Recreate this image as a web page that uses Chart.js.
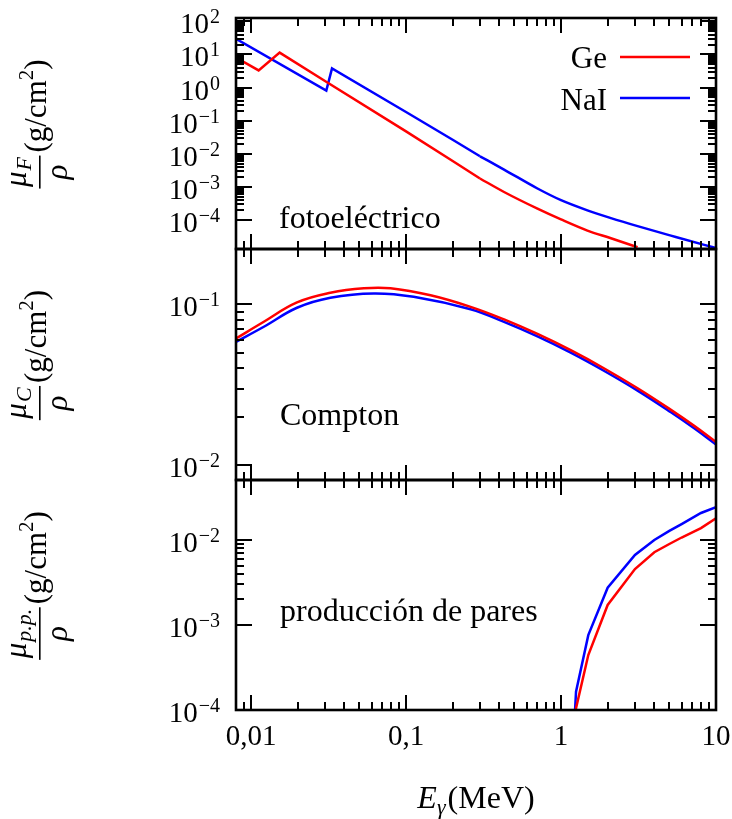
<!DOCTYPE html>
<html><head><meta charset="utf-8">
<script src="https://cdn.jsdelivr.net/npm/chart.js@4/dist/chart.umd.min.js"></script>
<style>
html,body{margin:0;padding:0;background:#fff;}
#wrap{position:relative;width:732px;height:819px;overflow:hidden;background:#fff;}
canvas{position:absolute;left:0;}
</style></head><body>
<div id="wrap">
<canvas id="c1" width="732" height="260" style="top:0px"></canvas>
<canvas id="c2" width="732" height="250" style="top:240px"></canvas>
<canvas id="c3" width="732" height="349" style="top:470px"></canvas>
</div>
<script>
// ---------- data ----------
const seriesNames = ['Ge', 'NaI'];
const seriesColors = ['#ff0000', '#0000ff'];

// photoelectric: straight low-energy part (with absorption edges) and curved high-energy part
const photoE_Ge_low   = [0.008, 0.0112, 0.0153, 0.03, 0.1, 0.2, 0.3];
const photoMu_Ge_low  = [8.0, 3.3, 11.4, 1.58, 0.047, 5.97e-3, 1.77e-3];
const photoE_Ge_high  = [0.3, 0.429, 0.705, 1.0, 1.48, 2.1, 3.12];
const photoMu_Ge_high = [1.77e-3, 6.9e-4, 2.16e-4, 1.02e-4, 4.7e-5, 2.75e-5, 1.47e-5];
const photoE_NaI_low   = [0.008, 0.0306, 0.0333, 0.1, 0.2, 0.3];
const photoMu_NaI_low  = [30, 0.81, 3.8, 0.182, 0.0262, 8.3e-3];
const photoE_NaI_high  = [0.3, 0.429, 0.705, 1.0, 1.48, 2.1, 3.12, 5.12, 8.4, 10];
const photoMu_NaI_high = [8.3e-3, 3.3e-3, 8.8e-4, 3.9e-4, 1.92e-4, 1.12e-4, 6.4e-5, 3.3e-5, 1.73e-5, 1.4e-5];

const comptonE_Ge  = [0.008, 0.0121, 0.0198, 0.0325, 0.0534, 0.0794, 0.144, 0.261, 0.429, 0.705, 1.155, 1.89, 3.12, 5.12, 7.23, 10];
const comptonMu_Ge = [0.0614, 0.078, 0.1028, 0.118, 0.126, 0.126, 0.114, 0.0966, 0.0807, 0.0655, 0.0519, 0.0401, 0.0301, 0.0221, 0.01758, 0.01396];
const comptonE_NaI  = [0.008, 0.0121, 0.0198, 0.0325, 0.062, 0.112, 0.261, 0.429, 0.705, 1.155, 1.89, 3.12, 5.12, 7.23, 10];
const comptonMu_NaI = [0.0585, 0.0726, 0.0953, 0.110, 0.117, 0.1115, 0.0932, 0.0778, 0.0632, 0.0501, 0.0387, 0.0291, 0.02134, 0.01697, 0.01347];

const pairE = [1.1, 1.25, 1.5, 2, 3, 4, 5, 6, 8, 10];
const pairMu_Ge  = [1e-6, 1.05e-4, 4.43e-4, 1.72e-3, 4.56e-3, 7.17e-3, 8.97e-3, 1.07e-2, 1.38e-2, 1.8e-2];
const pairMu_NaI = [2e-6, 1.64e-4, 7.6e-4, 2.75e-3, 6.67e-3, 0.0100, 0.0128, 0.0154, 0.0208, 0.0243];

const xTickValues = [0.01, 0.1, 1, 10];
const xTickLabels = ['0,01', '0,1', '1', '10'];
const yTicksPhoto = [1e-4, 1e-3, 1e-2, 1e-1, 1, 10, 100];
const yExpPhoto = ['−4', '−3', '−2', '−1', '0', '1', '2'];
const yTicksCompton = [0.01, 0.1];
const yExpCompton = ['−2', '−1'];
const yTicksPair = [1e-4, 1e-3, 1e-2];
const yExpPair = ['−4', '−3', '−2'];

const panelTexts = ['fotoeléctrico', 'Compton', 'producción de pares'];
const ySubs = ['F', 'C', 'p.p.'];
const xTitleMain = 'E', xTitleSub = 'γ', xTitleUnit = '(MeV)';

// ---------- helpers ----------
const FAM = "'Liberation Serif', 'Times New Roman', serif";
Chart.defaults.font.family = FAM;
Chart.defaults.color = '#000';

function pts(xs, ys) { return xs.map((x, i) => ({x: x, y: ys[i]})); }

function logTicks(min, max) {
  const out = [];
  for (let d = Math.floor(Math.log10(min)) - 1; d <= Math.ceil(Math.log10(max)); d++) {
    for (let k = 1; k <= 9; k++) {
      const v = k * Math.pow(10, d);
      if (v >= min * 1.0001 && v <= max * 0.9999) out.push({v: v, major: k === 1});
    }
  }
  return out;
}

function drawFrame(chart) {
  const ctx = chart.ctx, a = chart.chartArea, xs = chart.scales.x, ys = chart.scales.y;
  ctx.save();
  ctx.strokeStyle = '#000';
  ctx.lineWidth = 2;
  ctx.beginPath();
  for (const t of logTicks(xs.min, xs.max)) {
    const px = Math.round(xs.getPixelForValue(t.v));
    if (px <= a.left + 2 || px >= a.right - 2) continue;
    const L = t.major ? 15 : 8;
    ctx.moveTo(px, a.bottom); ctx.lineTo(px, a.bottom - L);
    ctx.moveTo(px, a.top); ctx.lineTo(px, a.top + L);
  }
  const yt = logTicks(ys.min, ys.max);
  const majors = yt.filter(t => t.major).map(t => t.v);
  const lo = Math.min(...majors), hi = Math.max(...majors);
  for (const t of yt) {
    if (t.v < lo * 0.999 || t.v > hi * 1.001) continue;
    const py = Math.round(ys.getPixelForValue(t.v));
    if (py <= a.top + 2 || py >= a.bottom - 2) continue;
    const L = t.major ? 16 : 8;
    ctx.moveTo(a.left, py); ctx.lineTo(a.left + L, py);
    ctx.moveTo(a.right, py); ctx.lineTo(a.right - L, py);
  }
  ctx.stroke();
  ctx.lineWidth = 2.6;
  ctx.strokeRect(a.left, a.top, a.right - a.left, a.bottom - a.top);
  ctx.restore();
}

// y tick labels "10" with a raised exponent, placed at the scale's own tick pixels
function drawYTickLabels(chart, exps) {
  const ctx = chart.ctx, ys = chart.scales.y;
  const fMain = "29px " + FAM, fExp = "20px " + FAM;
  const right = chart.chartArea.left - 16;
  ctx.save();
  ctx.fillStyle = '#000'; ctx.textAlign = 'left'; ctx.textBaseline = 'alphabetic';
  ys.ticks.forEach((t, i) => {
    const py = ys.getPixelForValue(t.value);
    ctx.font = fExp; const we = ctx.measureText(exps[i]).width;
    ctx.font = fMain; const wm = ctx.measureText('10').width;
    const x0 = right - we - wm - 1;
    ctx.fillText('10', x0, py + 12);
    ctx.font = fExp; ctx.fillText(exps[i], x0 + wm + 1, py + 2);
  });
  ctx.restore();
}

function drawYTitle(chart, sub) {
  const ctx = chart.ctx, a = chart.chartArea;
  const cy = (a.top + a.bottom) / 2 - 9.5;
  const fMain = "31px " + FAM, fIt = "italic 31px " + FAM, fSub = "italic 22px " + FAM, fSup = "21px " + FAM;
  ctx.save();
  ctx.font = fIt; const wMu = ctx.measureText('μ').width, wRho = ctx.measureText('ρ').width;
  ctx.font = fSub; const wSub = ctx.measureText(sub).width;
  const wNum = wMu + wSub + 1;
  const wFrac = Math.max(wNum, wRho) + 3;
  ctx.font = fMain; const w1 = ctx.measureText('(g/cm').width, w3 = ctx.measureText(')').width;
  ctx.font = fSup; const w2 = ctx.measureText('2').width;
  const W = wFrac + 3 + w1 + w2 + w3;
  ctx.translate(0, cy + W / 2);
  ctx.rotate(-Math.PI / 2);
  ctx.fillStyle = '#000';
  ctx.textAlign = 'left';
  ctx.textBaseline = 'alphabetic';
  const nx = (wFrac - wNum) / 2;
  ctx.font = fIt; ctx.fillText('μ', nx, 26);
  ctx.font = fSub; ctx.fillText(sub, nx + wMu + 1, 31);
  ctx.fillRect(0, 39, wFrac, 1.6);
  ctx.font = fIt; ctx.fillText('ρ', (wFrac - wRho) / 2, 67);
  let x = wFrac + 3;
  ctx.font = fMain; ctx.fillText('(g/cm', x, 46); x += w1;
  ctx.font = fSup; ctx.fillText('2', x, 33); x += w2;
  ctx.font = fMain; ctx.fillText(')', x, 46);
  ctx.restore();
}

function drawText(ctx, txt, x, y, font, align) {
  ctx.save();
  ctx.font = font; ctx.fillStyle = '#000';
  ctx.textAlign = align || 'left'; ctx.textBaseline = 'alphabetic';
  ctx.fillText(txt, x, y);
  ctx.restore();
}

function makeChart(id, cfg) {
  const yScale = {
    type: 'logarithmic', position: 'left', min: cfg.ymin, max: cfg.ymax, bounds: 'data',
    grid: {display: false, drawTicks: false}, border: {display: false},
    ticks: {display: false, autoSkip: false},
    afterBuildTicks: s => { s.ticks = cfg.yTicks.map(v => ({value: v})); },
    afterFit: s => { s.width = 236; s.paddingTop = 0; s.paddingBottom = 0; }
  };
  const xScale = {
    type: 'logarithmic', position: 'bottom', min: 0.008, max: 10, bounds: 'data',
    display: cfg.showX,
    grid: {display: false, drawTicks: false}, border: {display: false},
    ticks: {font: {size: 29, family: FAM}, color: '#000', padding: 10, autoSkip: false, maxRotation: 0,
            callback: (v, i) => xTickLabels[i]},
    afterBuildTicks: s => { s.ticks = xTickValues.map(v => ({value: v})); },
    afterFit: s => { if (cfg.showX) s.height = 109; s.paddingLeft = 0; s.paddingRight = 0; }
  };
  return new Chart(document.getElementById(id), {
    type: 'line',
    data: {datasets: cfg.datasets.map(d => ({
      label: seriesNames[d.s], data: d.data, borderColor: seriesColors[d.s], backgroundColor: seriesColors[d.s],
      borderWidth: 2.5, pointRadius: 0, fill: false,
      tension: d.tension || 0, cubicInterpolationMode: d.mono ? 'monotone' : 'default'
    }))},
    options: {
      responsive: false, animation: false, events: [],
      layout: {padding: cfg.padding},
      plugins: {legend: {display: false}, tooltip: {enabled: false}},
      scales: {x: xScale, y: yScale}
    },
    plugins: [{
      id: 'deco' + id,
      afterDraw: chart => {
        drawFrame(chart); drawYTickLabels(chart, cfg.yExp); drawYTitle(chart, cfg.sub);
        if (cfg.extra) cfg.extra(chart);
      }
    }]
  });
}

// panel 1: photoelectric (canvas top 0)
makeChart('c1', {
  ymin: 1.3e-5, ymax: 127, yTicks: yTicksPhoto, yExp: yExpPhoto, showX: false,
  padding: {top: 18, right: 16, bottom: 11, left: 0}, sub: ySubs[0],
  datasets: [
    {s: 0, data: pts(photoE_Ge_low, photoMu_Ge_low)},
    {s: 0, data: pts(photoE_Ge_high, photoMu_Ge_high), mono: true},
    {s: 1, data: pts(photoE_NaI_low, photoMu_NaI_low)},
    {s: 1, data: pts(photoE_NaI_high, photoMu_NaI_high), mono: true}
  ],
  extra: chart => {
    const ctx = chart.ctx;
    drawText(ctx, panelTexts[0], 279, 228, "32px " + FAM);
    drawText(ctx, seriesNames[0], 607, 68, "31px " + FAM, 'right');
    drawText(ctx, seriesNames[1], 607, 110, "31px " + FAM, 'right');
    ctx.save(); ctx.lineWidth = 2.5;
    ctx.strokeStyle = seriesColors[0]; ctx.beginPath(); ctx.moveTo(620, 57); ctx.lineTo(690, 57); ctx.stroke();
    ctx.strokeStyle = seriesColors[1]; ctx.beginPath(); ctx.moveTo(620, 98); ctx.lineTo(690, 98); ctx.stroke();
    ctx.restore();
  }
});

// panel 2: Compton (canvas top 240)
makeChart('c2', {
  ymin: 0.0081, ymax: 0.221, yTicks: yTicksCompton, yExp: yExpCompton, showX: false,
  padding: {top: 9, right: 16, bottom: 10, left: 0}, sub: ySubs[1],
  datasets: [
    {s: 0, data: pts(comptonE_Ge, comptonMu_Ge), tension: 0.4},
    {s: 1, data: pts(comptonE_NaI, comptonMu_NaI), tension: 0.4}
  ],
  extra: chart => { drawText(chart.ctx, panelTexts[1], 280, 425 - 240, "32px " + FAM); }
});

// panel 3: pair production (canvas top 470)
makeChart('c3', {
  ymin: 1e-4, ymax: 0.0508, yTicks: yTicksPair, yExp: yExpPair, showX: true,
  padding: {top: 10, right: 16, bottom: 0, left: 0}, sub: ySubs[2],
  datasets: [
    {s: 0, data: pts(pairE, pairMu_Ge)},
    {s: 1, data: pts(pairE, pairMu_NaI)}
  ],
  extra: chart => {
    const ctx = chart.ctx;
    drawText(ctx, panelTexts[2], 280, 621 - 470, "32px " + FAM);
    ctx.save(); ctx.fillStyle = '#000'; ctx.textBaseline = 'alphabetic'; ctx.textAlign = 'left';
    const fIt = "italic 32px " + FAM, fSub = "italic 22px " + FAM, fMain = "32px " + FAM;
    ctx.font = fIt; const wE = ctx.measureText(xTitleMain).width;
    ctx.font = fSub; const wG = ctx.measureText(xTitleSub).width;
    ctx.font = fMain; const wU = ctx.measureText(xTitleUnit).width;
    const a = chart.chartArea;
    let x = (a.left + a.right) / 2 - (wE + wG + 2 + wU) / 2;
    const yb = 808 - 470;
    ctx.font = fIt; ctx.fillText(xTitleMain, x, yb); x += wE;
    ctx.font = fSub; ctx.fillText(xTitleSub, x, yb + 6); x += wG + 2;
    ctx.font = fMain; ctx.fillText(xTitleUnit, x, yb);
    ctx.restore();
  }
});
</script>
</body></html>
